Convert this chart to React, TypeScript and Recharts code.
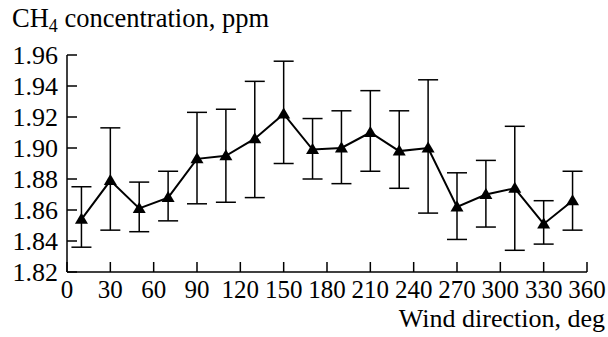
import { ErrorBar, Line, LineChart, XAxis, YAxis } from "recharts";

const FONT = "Liberation Serif";
const textStyle = { fontFamily: FONT, fontSize: 26.5, fill: "#000" };
const tickStyle = { fontFamily: FONT, fontSize: 25, fill: "#000" };

const directions = [10, 30, 50, 70, 90, 110, 130, 150, 170, 190, 210, 230, 250, 270, 290, 310, 330, 350];
const ch4 = [1.854, 1.879, 1.861, 1.868, 1.893, 1.895, 1.906, 1.922, 1.899, 1.900, 1.910, 1.898, 1.900, 1.862, 1.870, 1.874, 1.851, 1.866];
const ch4Low = [1.836, 1.847, 1.846, 1.853, 1.864, 1.865, 1.868, 1.890, 1.880, 1.877, 1.885, 1.874, 1.858, 1.841, 1.849, 1.834, 1.838, 1.847];
const ch4High = [1.875, 1.913, 1.878, 1.885, 1.923, 1.925, 1.943, 1.956, 1.919, 1.924, 1.937, 1.924, 1.944, 1.884, 1.892, 1.914, 1.866, 1.885];

const xTicks = [0, 30, 60, 90, 120, 150, 180, 210, 240, 270, 300, 330, 360];
const yTicks = [1.82, 1.84, 1.86, 1.88, 1.9, 1.92, 1.94, 1.96];

const data = directions.map((d, i) => ({
  dir: d,
  ch4: ch4[i],
  err: [ch4[i] - ch4Low[i], ch4High[i] - ch4[i]],
}));

const XTick = ({ x, y, payload }: any) => (
  <g>
    <line x1={x} y1={y} x2={x} y2={y - 10} stroke="#000" strokeWidth={1.5} />
    <text x={x} y={y + 26} textAnchor="middle" style={tickStyle}>
      {payload.value}
    </text>
  </g>
);

const YTick = ({ x, y, payload }: any) => (
  <g>
    <line x1={x + 9} y1={y} x2={x + 19} y2={y} stroke="#000" strokeWidth={1.5} />
    <text x={x} y={y + 8.5} textAnchor="end" style={{ ...tickStyle, fontSize: 26 }}>
      {payload.value.toFixed(2)}
    </text>
  </g>
);

const Triangle = ({ cx, cy, index }: any) => (
  <polygon key={index} points={`${cx},${cy - 6.5} ${cx - 6.5},${cy + 4.5} ${cx + 6.5},${cy + 4.5}`} fill="#000" />
);

export default function App() {
  return (
    <div style={{ position: "absolute", left: 0, top: 0, width: 608, height: 337, background: "#fff", fontFamily: FONT }}>
      <LineChart width={608} height={337} data={data} margin={{ top: 55, right: 21, bottom: 0, left: 0 }}>
        <XAxis
          dataKey="dir"
          type="number"
          domain={[0, 360]}
          ticks={xTicks}
          interval={0}
          height={65}
          tickSize={0}
          tickMargin={0}
          tickLine={false}
          tick={<XTick />}
          axisLine={{ stroke: "#000", strokeWidth: 1.5 }}
        />
        <YAxis
          type="number"
          domain={[1.82, 1.96]}
          ticks={yTicks}
          interval={0}
          width={67}
          tickSize={0}
          tickMargin={9}
          tickLine={false}
          tick={<YTick />}
          axisLine={{ stroke: "#000", strokeWidth: 1.5 }}
        />
        <Line
          dataKey="ch4"
          stroke="#000"
          strokeWidth={2}
          dot={Triangle}
          activeDot={false}
          isAnimationActive={false}
        >
          <ErrorBar dataKey="err" direction="y" width={10} stroke="#000" strokeWidth={1.5} />
        </Line>
      </LineChart>
      <svg width={608} height={337} style={{ position: "absolute", left: 0, top: 0, pointerEvents: "none" }}>
        <text x={12} y={27} style={textStyle}>
          CH<tspan fontSize={18} dy={5}>4</tspan>
          <tspan dy={-5}> concentration, ppm</tspan>
        </text>
        <text x={605} y={327} textAnchor="end" style={{ ...textStyle, fontSize: 26 }}>
          Wind direction, deg
        </text>
      </svg>
    </div>
  );
}
